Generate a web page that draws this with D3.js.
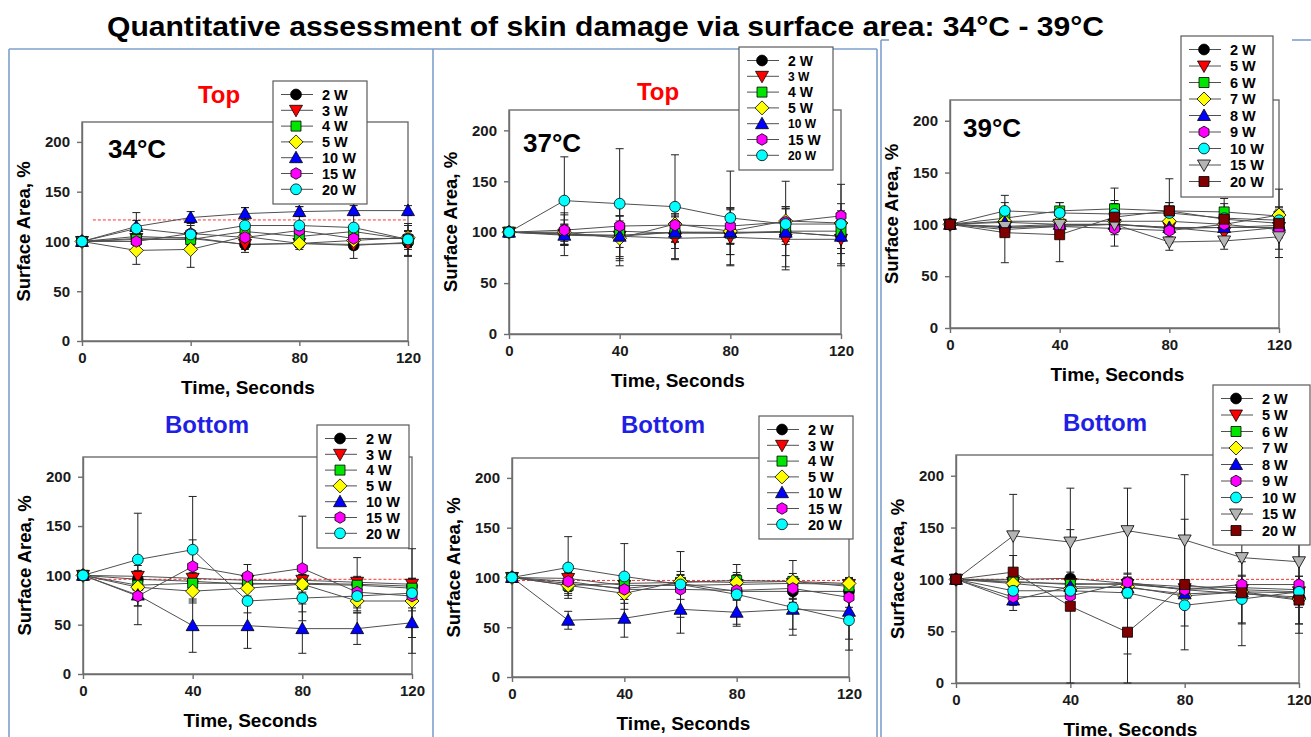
<!DOCTYPE html>
<html>
<head>
<meta charset="utf-8">
<script src="https://cdn.jsdelivr.net/npm/d3@7"></script>
<style>
  body { margin: 0; background: #fff; }
  svg { display: block; font-family: "Liberation Sans", Arial, sans-serif; }
</style>
</head>
<body>
<div id="chart"></div>
<script>
// Time points and ticks
const times = [0, 20, 40, 60, 80, 100, 120];
const xTicks = [0, 40, 80, 120];
const yTicks = [0, 50, 100, 150, 200];

// Series names
const seriesA = ["2 W", "3 W", "4 W", "5 W", "10 W", "15 W", "20 W"];
const seriesB = ["2 W", "5 W", "6 W", "7 W", "8 W", "9 W", "10 W", "15 W", "20 W"];

// 34°C top
const top34 = [
  [100, 105, 103, 97, 98, 96, 99],
  [100, 103, 104, 97, 98, 97, 98],
  [100, 102, 102, 110, 105, 110, 102],
  [100, 91, 92, 105, 98, 101, 104],
  [100, 115, 124, 128, 130, 131, 131],
  [100, 100, 108, 104, 111, 103, 103],
  [100, 113, 107, 116, 116, 114, 102]
];
const top34Err = [
  [0, 5, 4, 5, 4, 13, 4],
  [0, 4, 4, 8, 4, 5, 13],
  [0, 6, 6, 8, 6, 6, 8],
  [0, 14, 18, 10, 6, 8, 12],
  [0, 6, 6, 6, 5, 5, 5],
  [0, 8, 8, 8, 8, 6, 8],
  [0, 16, 12, 18, 19, 12, 16]
];

// 37°C top
const top37 = [
  [100, 98, 97, 100, 99, 100, 96],
  [100, 98, 96, 94, 95, 93, 93],
  [100, 99, 101, 99, 99, 101, 101],
  [100, 100, 94, 108, 101, 111, 109],
  [100, 97, 96, 100, 100, 100, 96],
  [100, 102, 106, 107, 106, 110, 116],
  [100, 131, 128, 125, 114, 108, 108]
];
const top37Err = [
  [0, 21, 12, 10, 10, 12, 12],
  [0, 10, 29, 21, 28, 30, 26],
  [0, 8, 10, 8, 10, 10, 10],
  [0, 12, 22, 10, 23, 14, 12],
  [0, 10, 20, 16, 22, 23, 17],
  [0, 15, 10, 11, 18, 15, 12],
  [0, 43, 54, 51, 46, 42, 39]
];

// 39°C top
const top39 = [
  [100, 97, 98, 100, 96, 97, 97],
  [100, 97, 99, 100, 97, 92, 97],
  [100, 106, 113, 115, 113, 112, 108],
  [100, 103, 103, 103, 103, 100, 109],
  [100, 102, 100, 100, 97, 97, 99],
  [100, 95, 98, 96, 94, 100, 95],
  [100, 113, 111, 110, 111, 106, 104],
  [100, 98, 100, 100, 83, 84, 88],
  [100, 92, 90, 107, 113, 105, 101]
];
const top39Err = [
  [0, 6, 5, 5, 5, 5, 6],
  [0, 5, 5, 6, 5, 6, 6],
  [0, 8, 8, 8, 8, 8, 8],
  [0, 8, 8, 8, 8, 8, 8],
  [0, 5, 5, 5, 5, 5, 5],
  [0, 6, 6, 6, 6, 6, 8],
  [0, 15, 10, 10, 10, 10, 10],
  [0, 8, 8, 8, 8, 8, 12],
  [0, 29, 26, 28, 31, 20, 33]
];

// 34°C bottom
const bot34 = [
  [100, 96, 94, 91, 92, 91, 89],
  [100, 99, 97, 95, 95, 93, 91],
  [100, 90, 92, 92, 91, 90, 87],
  [100, 88, 84, 87, 91, 74, 74],
  [100, 80, 49, 49, 46, 46, 52],
  [100, 79, 109, 99, 107, 83, 79],
  [100, 116, 126, 74, 77, 79, 82]
];
const bot34Err = [
  [0, 8, 6, 6, 6, 6, 6],
  [0, 6, 6, 6, 6, 6, 6],
  [0, 10, 8, 8, 8, 28, 10],
  [0, 10, 10, 8, 10, 10, 10],
  [0, 30, 27, 23, 25, 16, 31],
  [0, 10, 27, 12, 53, 14, 12],
  [0, 47, 54, 12, 14, 12, 45]
];

// 37°C bottom
const bot37 = [
  [100, 94, 89, 94, 86, 86, 86],
  [100, 99, 92, 92, 93, 94, 93],
  [100, 92, 94, 95, 97, 96, 91],
  [100, 92, 84, 96, 95, 96, 94],
  [100, 57, 59, 68, 65, 68, 66],
  [100, 96, 88, 88, 87, 89, 80],
  [100, 110, 101, 93, 83, 70, 57]
];
const bot37Err = [
  [0, 8, 8, 8, 8, 8, 8],
  [0, 6, 6, 6, 6, 6, 6],
  [0, 8, 8, 8, 8, 8, 8],
  [0, 10, 10, 10, 8, 21, 6],
  [0, 9, 19, 24, 14, 20, 28],
  [0, 10, 10, 10, 10, 10, 10],
  [0, 31, 33, 33, 30, 28, 30]
];

// 39°C bottom
const bot39 = [
  [100, 100, 101, 96, 93, 92, 90],
  [100, 97, 96, 95, 91, 90, 88],
  [100, 98, 95, 96, 90, 86, 83],
  [100, 96, 91, 93, 84, 88, 81],
  [100, 80, 93, 92, 86, 88, 87],
  [100, 83, 84, 97, 90, 95, 95],
  [100, 89, 89, 87, 75, 81, 88],
  [100, 142, 136, 147, 138, 121, 117],
  [100, 107, 74, 49, 95, 87, 80]
];
const bot39Err = [
  [0, 6, 6, 6, 6, 6, 6],
  [0, 6, 6, 6, 6, 6, 6],
  [0, 6, 6, 6, 6, 6, 6],
  [0, 8, 8, 8, 8, 8, 8],
  [0, 10, 10, 10, 10, 10, 10],
  [0, 8, 8, 8, 8, 8, 8],
  [0, 12, 12, 59, 20, 23, 31],
  [0, 40, 52, 41, 63, 85, 69],
  [0, 16, 74, 49, 63, 30, 23]
];

// red dashed reference levels (null = none)
const refLevels = [121.6, null, null, 96, 97, 100];

// marker styles
const styleA = [
  { shape: "circle", fill: "#000000" },
  { shape: "down", fill: "#ff0000" },
  { shape: "square", fill: "#00e600" },
  { shape: "diamond", fill: "#ffff00" },
  { shape: "up", fill: "#0000ff" },
  { shape: "hex", fill: "#ff00ff" },
  { shape: "circle", fill: "#00ffff" }
];
const styleB = [
  { shape: "circle", fill: "#000000" },
  { shape: "down", fill: "#ff0000" },
  { shape: "square", fill: "#00e600" },
  { shape: "diamond", fill: "#ffff00" },
  { shape: "up", fill: "#0000ff" },
  { shape: "hex", fill: "#ff00ff" },
  { shape: "circle", fill: "#00ffff" },
  { shape: "down", fill: "#b4b4b4" },
  { shape: "square", fill: "#800000" }
];

function shapePath(shape) {
  if (shape === "circle") return d3.symbol(d3.symbolCircle, 92)();
  if (shape === "square") return "M-5,-5h10v10h-10Z";
  if (shape === "diamond") return "M0,-7L7,0L0,7L-7,0Z";
  if (shape === "up") return "M0,-6.5L6.5,5L-6.5,5Z";
  if (shape === "down") return "M0,6.5L6.5,-5L-6.5,-5Z";
  // hexagon
  let pts = d3.range(6).map(i => {
    let a = Math.PI / 6 + i * Math.PI / 3;
    return [5.8 * Math.cos(a), 5.8 * Math.sin(a)];
  });
  return "M" + pts.join("L") + "Z";
}

// Panel layout
const panels = [
  { temp: "34°C", side: "Top", names: seriesA, vals: top34, errs: top34Err, style: styleA,
    box: [82, 122, 408, 341], legend: [273, 81, 94, 123], sideXY: [219, 95], tempXY: [108, 158], refFrom: 4 },
  { temp: "37°C", side: "Top", names: seriesA, vals: top37, errs: top37Err, style: styleA,
    box: [509, 110, 841, 334], legend: [739, 47, 94, 123], sideXY: [658, 92], tempXY: [523, 152],
    legendFont: [14, 12, 14, 14, 12, 14, 12] },
  { temp: "39°C", side: null, names: seriesB, vals: top39, errs: top39Err, style: styleB,
    box: [950, 100, 1279, 328], legend: [1181, 36, 92, 161], tempXY: [963, 137] },
  { temp: null, side: "Bottom", names: seriesA, vals: bot34, errs: bot34Err, style: styleA,
    box: [83, 457, 412, 674], legend: [317, 425, 92, 123], sideXY: [207, 425], refFrom: 2 },
  { temp: null, side: "Bottom", names: seriesA, vals: bot37, errs: bot37Err, style: styleA,
    box: [512, 458, 849, 677], legend: [759, 416, 94, 123], sideXY: [663, 425], refFrom: 0 },
  { temp: null, side: "Bottom", names: seriesB, vals: bot39, errs: bot39Err, style: styleB,
    box: [956, 455, 1299, 683], legend: [1213, 385, 97, 160], sideXY: [1105, 423], refFrom: 0 }
];

let svg = d3.select("#chart")
  .append("svg")
  .attr("width", 1311)
  .attr("height", 737);

// light blue slide frames
const frameColor = "#7f9fcb";
let frames = [
  [9, 49, 9, 737], [9, 49, 877, 49], [433, 49, 433, 737], [877, 49, 877, 737],
  [881, 40, 881, 737], [881, 40, 889, 40], [1292, 40, 1311, 40]
];
svg.selectAll(".frame")
  .data(frames)
  .enter().append("line")
  .attr("x1", d => d[0]).attr("y1", d => d[1])
  .attr("x2", d => d[2]).attr("y2", d => d[3])
  .attr("stroke", frameColor)
  .attr("stroke-width", 1.6);

// Main title
svg.append("text")
  .attr("x", 107)
  .attr("y", 36)
  .attr("font-size", "28px")
  .attr("font-weight", "bold")
  .attr("fill", "#000")
  .attr("textLength", 997)
  .attr("lengthAdjust", "spacingAndGlyphs")
  .text("Quantitative assessment of skin damage via surface area: 34°C - 39°C");

panels.forEach((p, pi) => {
  let [x0, y0, x1, y1] = p.box;
  let g = svg.append("g");

  let x = d3.scaleLinear().domain([0, 120]).range([x0, x1]);
  let y = d3.scaleLinear().domain([0, 220]).range([y1, y0]);

  // plot frame
  g.append("rect")
    .attr("x", x0).attr("y", y0)
    .attr("width", x1 - x0).attr("height", y1 - y0)
    .attr("fill", "none")
    .attr("stroke", "#6e6e6e")
    .attr("stroke-width", 1.4);

  // axes
  let xa = g.append("g")
    .attr("transform", "translate(0," + y1 + ")")
    .call(d3.axisBottom(x).tickValues(xTicks).tickSize(5).tickSizeOuter(0).tickPadding(6));
  let ya = g.append("g")
    .attr("transform", "translate(" + x0 + ",0)")
    .call(d3.axisLeft(y).tickValues(yTicks).tickSize(5).tickSizeOuter(0).tickPadding(7));
  [xa, ya].forEach(a => {
    a.select(".domain").attr("stroke", "#6e6e6e").attr("stroke-width", 1.4);
    a.selectAll(".tick line").attr("stroke", "#6e6e6e").attr("stroke-width", 1.4);
    a.selectAll(".tick text")
      .attr("font-size", "15px")
      .attr("font-weight", "bold")
      .attr("font-family", "Liberation Sans, Arial, sans-serif")
      .attr("fill", "#1a1a1a");
  });

  // axis labels
  g.append("text")
    .attr("transform", "translate(" + (x0 - 58) + "," + ((y0 + y1) / 2) + ") rotate(-90)")
    .attr("text-anchor", "middle")
    .attr("dy", ".35em")
    .attr("font-size", "18.5px")
    .attr("font-weight", "bold")
    .text("Surface Area, %");
  g.append("text")
    .attr("x", (x0 + x1) / 2 + 3)
    .attr("y", y1 + 46)
    .attr("dy", ".35em")
    .attr("text-anchor", "middle")
    .attr("font-size", "19px")
    .attr("font-weight", "bold")
    .text("Time, Seconds");

  // reference dashed line
  if (refLevels[pi] != null) {
    g.append("line")
      .attr("x1", x(p.refFrom)).attr("x2", x(120))
      .attr("y1", y(refLevels[pi])).attr("y2", y(refLevels[pi]))
      .attr("stroke", "#ff3030")
      .attr("stroke-width", 1)
      .attr("stroke-dasharray", "3,2");
  }

  // series lines
  let line = d3.line().x((d, i) => x(times[i])).y(d => y(d));
  g.selectAll(".sline")
    .data(p.vals)
    .enter().append("path")
    .attr("d", line)
    .attr("fill", "none")
    .attr("stroke", "#505050")
    .attr("stroke-width", 1);

  // error bars
  p.vals.forEach((vals, si) => {
    let errs = p.errs[si];
    let pts = vals.map((v, i) => ({ t: times[i], v: v, e: errs[i] })).filter(d => d.e > 0);
    let eb = g.append("g").attr("stroke", "#222").attr("stroke-width", 1);
    eb.selectAll("line.v").data(pts).enter().append("line")
      .attr("x1", d => x(d.t)).attr("x2", d => x(d.t))
      .attr("y1", d => y(d.v - d.e)).attr("y2", d => y(d.v + d.e));
    eb.selectAll("line.t").data(pts).enter().append("line")
      .attr("x1", d => x(d.t) - 4).attr("x2", d => x(d.t) + 4)
      .attr("y1", d => y(d.v + d.e)).attr("y2", d => y(d.v + d.e));
    eb.selectAll("line.b").data(pts).enter().append("line")
      .attr("x1", d => x(d.t) - 4).attr("x2", d => x(d.t) + 4)
      .attr("y1", d => y(d.v - d.e)).attr("y2", d => y(d.v - d.e));
  });

  // markers
  p.vals.forEach((vals, si) => {
    let st = p.style[si];
    g.selectAll(null)
      .data(vals)
      .enter().append("path")
      .attr("d", shapePath(st.shape))
      .attr("transform", (d, i) => "translate(" + x(times[i]) + "," + y(d) + ")")
      .attr("fill", st.fill)
      .attr("stroke", "#000")
      .attr("stroke-width", 0.8);
  });

  // panel titles
  if (p.side) {
    g.append("text")
      .attr("x", p.sideXY[0]).attr("y", p.sideXY[1])
      .attr("dy", ".35em")
      .attr("text-anchor", "middle")
      .attr("font-size", "24px")
      .attr("font-weight", "bold")
      .attr("fill", p.side === "Top" ? "#ff0000" : "#1f1fe6")
      .text(p.side);
  }
  if (p.temp) {
    g.append("text")
      .attr("x", p.tempXY[0]).attr("y", p.tempXY[1])
      .attr("font-size", "26px")
      .attr("font-weight", "bold")
      .text(p.temp);
  }

  // legend
  let [lx, ly, lw, lh] = p.legend;
  let n = p.names.length;
  let step = n > 7 ? 16.5 : 15.8;
  let lg = g.append("g");
  lg.append("rect")
    .attr("x", lx).attr("y", ly)
    .attr("width", lw).attr("height", lh)
    .attr("fill", "#fff")
    .attr("stroke", "#5a5a5a")
    .attr("stroke-width", 1.2);
  let rows = lg.selectAll(".row")
    .data(p.names)
    .enter().append("g")
    .attr("transform", (d, i) => "translate(" + lx + "," + (ly + 13.5 + i * step) + ")");
  rows.append("line")
    .attr("x1", 8).attr("x2", 40)
    .attr("stroke", "#505050")
    .attr("stroke-width", 1);
  rows.append("path")
    .attr("d", (d, i) => shapePath(p.style[i].shape))
    .attr("transform", "translate(23,0)")
    .attr("fill", (d, i) => p.style[i].fill)
    .attr("stroke", "#000")
    .attr("stroke-width", 0.8);
  rows.append("text")
    .attr("x", 49)
    .attr("dy", ".36em")
    .attr("font-size", (d, i) => (p.legendFont ? p.legendFont[i] : 14.5) + "px")
    .attr("font-weight", "bold")
    .text(d => d);
});
</script>
</body>
</html>
